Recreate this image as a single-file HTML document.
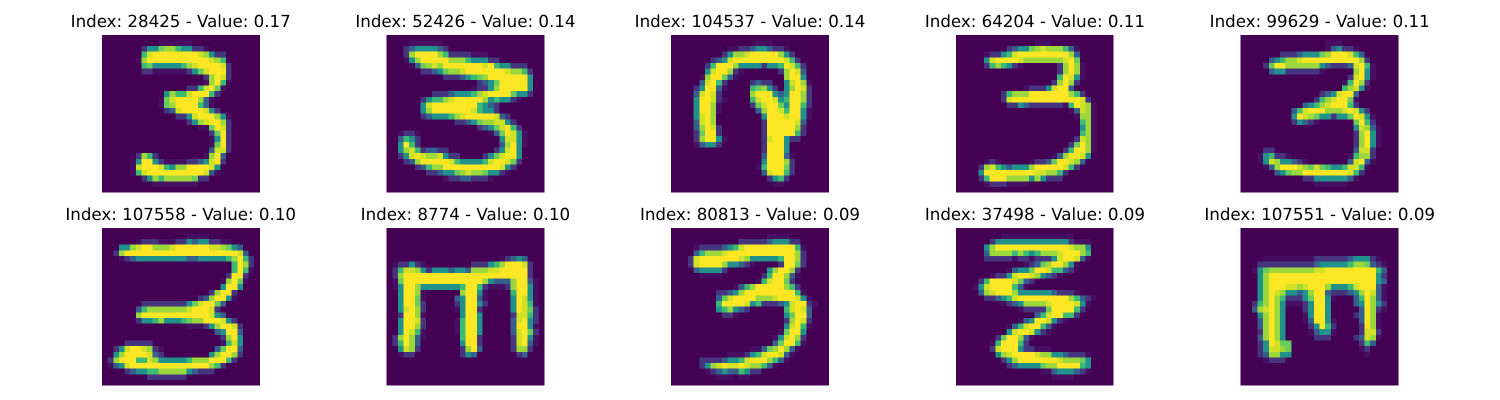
<!DOCTYPE html>
<html lang="en">
<head>
<meta charset="utf-8">
<title>Top activating images</title>
<style>
html,body{margin:0;padding:0;background:#fff;}
svg{display:block;}
text{font-family:"DejaVu Sans","Liberation Sans",sans-serif;font-size:16.67px;fill:#000;text-anchor:middle;text-rendering:geometricPrecision;}
</style>
</head>
<body>
<svg id="chart" xmlns="http://www.w3.org/2000/svg" width="1500" height="400" viewBox="0 0 1500 400">
  <rect x="0" y="0" width="1500" height="400" fill="#ffffff"/>
  <g id="images"></g>
  <g id="titles">
    <text x="180.7" y="27">Index: 28425 - Value: 0.17</text>
    <text x="465.4" y="27">Index: 52426 - Value: 0.14</text>
    <text x="750" y="27">Index: 104537 - Value: 0.14</text>
    <text x="1034.9" y="27">Index: 64204 - Value: 0.11</text>
    <text x="1319.7" y="27">Index: 99629 - Value: 0.11</text>
    <text x="180.7" y="220">Index: 107558 - Value: 0.10</text>
    <text x="465.4" y="220">Index: 8774 - Value: 0.10</text>
    <text x="750" y="220">Index: 80813 - Value: 0.09</text>
    <text x="1034.9" y="220">Index: 37498 - Value: 0.09</text>
    <text x="1319.7" y="220">Index: 107551 - Value: 0.09</text>
  </g>
</svg>
<script>
// Printed values for each panel title.
const imageIndices = [28425, 52426, 104537, 64204, 99629, 107558, 8774, 80813, 37498, 107551];
const imageScores = [0.17, 0.14, 0.14, 0.11, 0.11, 0.10, 0.10, 0.09, 0.09, 0.09];

// Intensity level (0..1) for each digit in the pixel rows below.
const digitLevels = [0, 0.04, 0.15, 0.3, 0.5, 0.68, 0.77, 0.85, 0.93, 1];

// Pixel rows: 28 rows; each row holds "startColumn:digits" runs of intensity digits.
const pixels0 = ["","10:111111","7:244677544221","7:589999999987422","6:1799999999999875","7:5644444578999982","7:2211111124689992","18:27982","18:17951","15:2258961","11:4755899952","10:1689999731","10:1679999531","11:2389999842","13:2248999741","15:24789972","17:116982","19:2692","19:1492","19:1692","19:3882","6:2752 18:1793","5:149942 11:1111 15:2234892","5:1899985477999984","5:1589999999999831","7:247577777622","9:11111111",""];
const pixels1 = ["","4:111111","3:23444432","3:279999752222111","3:14799999777544422","4:136787999999989544222","6:22346778999999987752","10:2223456799999994","16:2346999994","15:12247999994","8:222344457899996442","6:245578999997454421","6:48999999995432","6:47999999985442","6:2344457899999832","12:22346778842","16:23468952","2:1221 18:1369841","2:3542 20:48841","2:4952 20:37941","2:478523322 19:24894","2:24898778422 17:2468994","3:237999998544445899862","5:235779999999999842","7:223446787764421","10:122332221","",""];
const pixels2 = ["","15:111","10:11223443221","9:2477899999742","7:2348999999999852","6:259997444424459852","6:4899721 19:27983","5:1799631 20:7994","5:38952 14:2322 20:48971","4:249931 14:56742 20:47982","4:38982 14:79994349972","4:499821 14:58998459972","4:49971 14:26899649952","4:49971 15:3799859941","4:4897 16:499989941","4:3897 16:29999983","4:37982 16:29999972","4:26992 16:29999952","4:279941 16:2899422","4:13442 16:29994","16:29994","16:399931","16:499972","15:1599962","16:389952","17:2452","18:11",""];
const pixels3 = ["","14:111","9:2344678777531","5:12245899999999973","5:48999987777777896","5:2575421 18:27971","18:27971","18:59841","17:27972","12:122248993","8:257779999999752","8:2899999999999982","9:2243222222159871","20:13871","21:1771","22:571","22:471","22:571","21:2871","20:26971","19:259971","17:1379984","5:121 13:1223699873","4:278543444799999852","4:4999999999887752","4:259997777474222","5:12221111",""];
const pixels4 = ["","15:111","15:134221","7:222344467999853","5:345778999999999972","4:26997777774322238951","5:3442222221 20:7941","19:28941","18:15972","18:57841","14:2348993","13:25789961","11:3457899952","9:35899977789842","9:498764424469841","9:24321 20:6952","20:48731","20:27941","20:27941","20:27941","4:22 20:3882","3:145221 19:15772","3:148744321 19:38931","4:1379998768654458851","6:3467799999999852","11:2244444431","13:111111",""];
const pixels5 = ["","15:1111","6:12221112243442211","3:4478997778999999887643","2:279999999999999999999983","3:123444444444334444457952","23:5972","23:5951","22:2992","21:17961","21:4994","19:27992","17:2379941","7:222222224689963","6:357777777899982","6:7999999999999843","6:244574445677999842","15:1112479982","20:34993","21:2794","4:22222 21:1584","2:248998721 20:36993","2:479999832 19:479972","1:27999558744444577799952","1:134899999999999999752","4:2344557777743222","8:2222222",""];
const pixels6 = ["","","","","","20:12343","1:122421 15:22245799982","1:2588742444344377788999992","1:2799999999999999999999992","1:16999999999999997433379931","1:14997444444459952111279941","2:49971 13:79941 22:59941","2:49961 12:349931 22:49841","2:49962 12:249942 22:49851","2:48972 12:14992 22:49862","2:29971 13:4994 22:28852","2:49982 12:15994 22:38942","2:49972 12:15994 22:39941","2:49851 12:15994 22:38962","1:279731 13:5992 22:28941","1:25973 13:4992 22:28931","2:4872 13:2793 22:2772","2:122 13:243 23:23","","","","",""];
const pixels7 = ["","17:1111","12:22222344422","4:12222345899999999951","4:35777899999999999972","3:289999999874444459972","3:289999744321 19:29962","4:344442 17:479972","5:1111 16:2599731","15:1589962","11:135799999752","8:2234799999999951","8:36899997778999841","8:599998452223489921","8:457432 20:58983","9:221 20:46993","20:27982","20:48951","19:16994","18:148972","18:369951","14:113679731","10:111245899831","5:2222344589997531","5:24789889877531","6:1234335422","8:111 12:11",""];
const pixels8 = ["","8:1111111111111","6:244444444444442111","5:4799999999999998774","5:3777757545777899975","5:2222212212224899831","12:1236799741","9:134469985532","6:1224899874321","4:2599998632","3:1489999531","4:378999744444432221","5:22345899999999975321","8:1234777789999841","11:122226999952","14:35899552","11:134998421","9:135899531","9:48998421","7:2699731","6:1599952","6:28999422111","7:47899998774432221","8:2479999999877764","9:234444677999954","15:113444321","17:1111",""];
const pixels9 = ["","","","","","4:111111111222222344421","3:22222222223444445776321","2:146777777778899999999953","3:47999999999999999999942","3:47999999999999999999943","3:47999887899974445899931","3:47987443479932223479831","3:47975222469941 20:359731","2:25797411124994 20:349742","2:378974 11:24994 21:39721","3:47974 11:14994 20:23971","3:37974 11:139941 21:3971","3:37974 12:24952 21:2971","3:27974 12:13441 21:2882","3:37974 13:222 20:23871","3:249866 21:253","3:248876 21:12","3:237744 22:1","4:1222","","","",""];

const allPixels = [pixels0, pixels1, pixels2, pixels3, pixels4, pixels5, pixels6, pixels7, pixels8, pixels9];

// Viridis colour map.
const viridisStops = ["#440154","#482475","#414487","#355f8d","#2a788e","#21918c","#22a884","#44bf70","#7ad151","#bddf26","#fde725"];
function hexToRgb(h) {
  return [parseInt(h.slice(1, 3), 16), parseInt(h.slice(3, 5), 16), parseInt(h.slice(5, 7), 16)];
}
function colorScale(v) {
  const t = Math.max(0, Math.min(1, v)) * (viridisStops.length - 1);
  const i = Math.min(Math.floor(t), viridisStops.length - 2);
  const f = t - i;
  const a = hexToRgb(viridisStops[i]);
  const b = hexToRgb(viridisStops[i + 1]);
  return "rgb(" + a.map(function (x, k) { return Math.round(x + (b[k] - x) * f); }).join(",") + ")";
}

// Layout and axis functions.
const gridSize = 28;
const panelSize = 157.8;
const panelLeft = [102, 386.7, 671.1, 955.8, 1240.6];
const panelTop = [34.8, 227.8];
function xScale(panel, col) { return panelLeft[panel % 5] + col * panelSize / gridSize; }
function yScale(panel, row) { return panelTop[Math.floor(panel / 5)] + row * panelSize / gridSize; }

function decodeRow(text) {
  const cells = new Array(gridSize).fill(0);
  text.split(" ").forEach(function (run) {
    if (!run) return;
    const parts = run.split(":");
    const start = parseInt(parts[0], 10);
    const digits = parts[1];
    for (let i = 0; i < digits.length; i++) {
      if (start + i < gridSize) cells[start + i] = digitLevels[parseInt(digits[i], 10)];
    }
  });
  return cells;
}

const svgNS = "http://www.w3.org/2000/svg";
const imagesGroup = document.getElementById("images");
allPixels.forEach(function (rows, p) {
  const g = document.createElementNS(svgNS, "g");
  
  
  g.setAttribute('shape-rendering', 'crispEdges');
  for (let r = 0; r < gridSize; r++) {
    const values = decodeRow(rows[r] || "");
    for (let c = 0; c < gridSize; c++) {
      const cell = document.createElementNS(svgNS, "rect");
      
      
      const x0 = xScale(p, c), x1 = xScale(p, c + 1);
      const y0 = yScale(p, r), y1 = yScale(p, r + 1);
      cell.setAttribute('x', x0.toFixed(2));
      cell.setAttribute('y', y0.toFixed(2));
      cell.setAttribute('width', (x1 - x0).toFixed(2));
      cell.setAttribute('height', (y1 - y0).toFixed(2));
      cell.setAttribute('fill', colorScale(values[c]));
      g.appendChild(cell);
    }
  }
  imagesGroup.appendChild(g);
});

// Titles come from the value arrays.
const titleNodes = document.querySelectorAll("#titles text");
imageIndices.forEach(function (idx, i) {
  titleNodes[i].textContent = "Index: " + idx + " - Value: " + imageScores[i].toFixed(2);
});
</script>
</body>
</html>
